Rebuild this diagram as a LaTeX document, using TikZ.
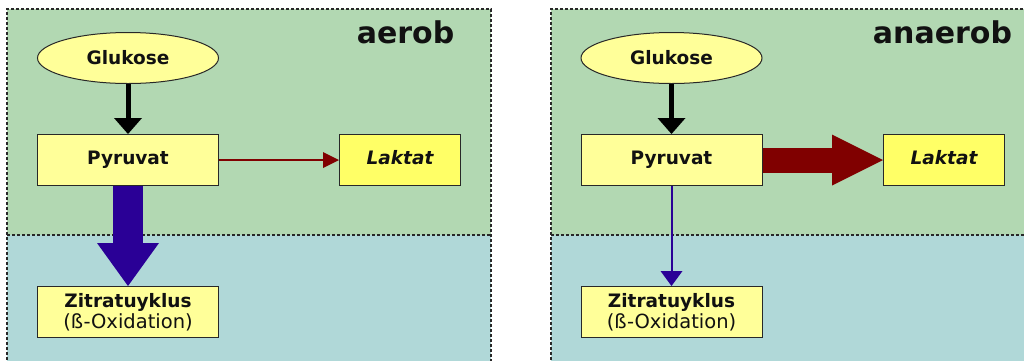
\documentclass[tikz,border=0pt]{standalone}
\usepackage{fontspec}
\setmainfont{DejaVu Sans}
\usetikzlibrary{arrows.meta,shapes.geometric}
\definecolor{bggreen}{RGB}{178,216,178}
\definecolor{bgblue}{RGB}{176,216,216}
\definecolor{boxyellow}{RGB}{255,255,153}
\definecolor{lakyellow}{RGB}{255,255,102}
\definecolor{bigblue}{RGB}{42,0,150}
\definecolor{darkred}{RGB}{128,0,0}
\definecolor{edge}{RGB}{40,40,40}
\definecolor{txt}{RGB}{17,17,17}
\newcommand{\oxfont}{\fontsize{19.5}{21}\selectfont\mdseries}
\tikzset{
  panelline/.style={draw=edge,line width=1.2pt,dash pattern=on 3pt off 2pt},
  boxbase/.style={draw=edge,line width=1pt,inner sep=0pt,minimum height=51pt,text=txt,
    font=\fontsize{18.5}{21}\selectfont\bfseries},
  procbox/.style={boxbase,rectangle,fill=boxyellow,minimum width=181pt,text height=13pt,text depth=4pt},
  lakbox/.style={boxbase,rectangle,fill=lakyellow,minimum width=121pt,
    font=\fontsize{18.5}{21}\selectfont\bfseries\itshape,text height=13pt,text depth=4pt},
  zitbox/.style={boxbase,rectangle,fill=boxyellow,minimum width=181pt,align=center},
  glubox/.style={boxbase,ellipse,fill=boxyellow,minimum width=181pt},
  title/.style={font=\fontsize{30}{34}\selectfont\bfseries,text=txt,anchor=base,inner sep=0pt},
  blackarr/.style={draw=black,line width=5pt,-{Triangle[width=28pt,length=16pt,line width=0pt]}},
  thinred/.style={draw=darkred,line width=1.5pt,-{Triangle[width=16pt,length=16pt,line width=0pt]}},
  thinblue/.style={draw=bigblue,line width=2pt,-{Triangle[width=22pt,length=15pt,line width=0pt]}},
  fatblue/.style={draw=bigblue,line width=30pt,-{Triangle[width=62pt,length=43pt,line width=0pt]}},
  fatred/.style={draw=darkred,line width=25pt,-{Triangle[width=51pt,length=51pt,line width=0pt]}},
}
\begin{document}
\begin{tikzpicture}[x=1pt,y=-1pt]
\useasboundingbox (0,0) rectangle (1024,360);
\clip (0,0) rectangle (1024,360);
\fill[white] (0,0) rectangle (1024,360);
% panels
\fill[bggreen] (7,9) rectangle (491,235);
\fill[bgblue] (7,235) rectangle (491,370);
\fill[bggreen] (551,9) rectangle (1030,235);
\fill[bgblue] (551,235) rectangle (1030,370);
\draw[panelline] (7,370) -- (7,9) -- (491,9) -- (491,370);
\draw[panelline] (7,235) -- (491,235);
\draw[panelline] (551,370) -- (551,9) -- (1030,9);
\draw[panelline] (551,235) -- (1030,235);
% titles
\node[title] (tA) at (405.5,43) {aerob};
\node[title] (tB) at (942.5,43) {anaerob};
% left panel
\node[glubox] (gluA) at (128,58) {Glukose};
\node[procbox] (pyrA) at (128,160) {Pyruvat};
\node[lakbox] (lakA) at (400,160) {Laktat};
\node[zitbox] (zitA) at (128,312) {Zitratuyklus\\{\oxfont(ß-Oxidation)}};
\draw[blackarr] (gluA.south) -- (pyrA.north);
\draw[thinred] (pyrA.east) -- (lakA.west);
\draw[fatblue] (pyrA.south) -- (zitA.north);
% right panel
\node[glubox] (gluB) at (671.5,58) {Glukose};
\node[procbox] (pyrB) at (671.5,160) {Pyruvat};
\node[lakbox] (lakB) at (944,160) {Laktat};
\node[zitbox] (zitB) at (671.5,312) {Zitratuyklus\\{\oxfont(ß-Oxidation)}};
\draw[blackarr] (gluB.south) -- (pyrB.north);
\draw[fatred] (pyrB.east) -- (lakB.west);
\draw[thinblue] (pyrB.south) -- (zitB.north);
\end{tikzpicture}
\end{document}
